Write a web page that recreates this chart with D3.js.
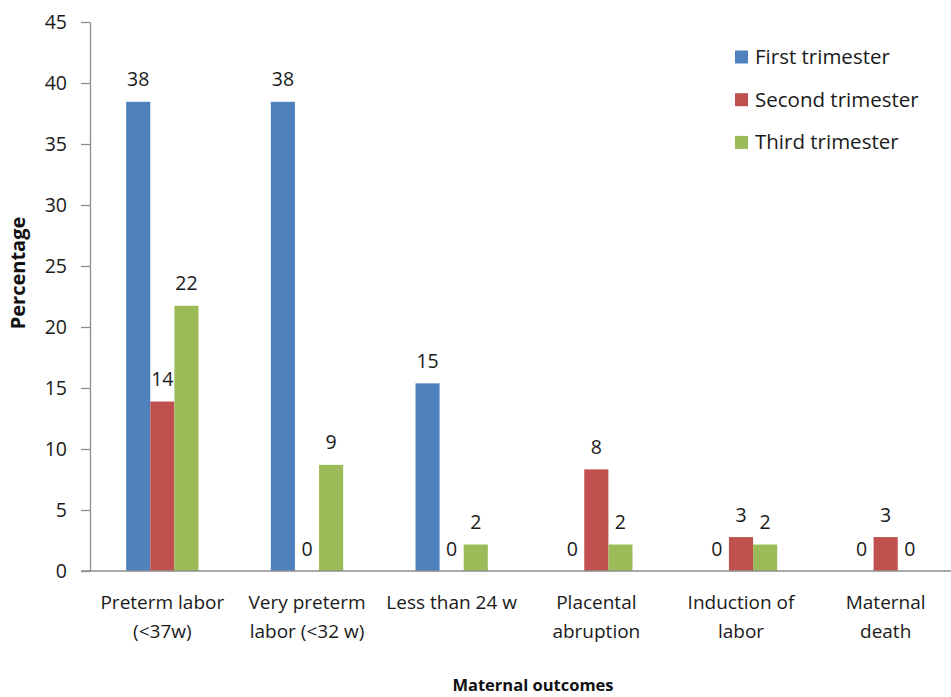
<!DOCTYPE html>
<html>
<head>
<meta charset="utf-8">
<script src="https://cdn.jsdelivr.net/npm/d3@7/dist/d3.min.js"></script>
<style>
  html, body { margin: 0; padding: 0; background: #fff; }
  svg { display: block; font-family: "Open Sans", "DejaVu Sans", sans-serif; }
</style>
</head>
<body>
<svg id="chart" width="951" height="697"></svg>
<script>
// Maternal outcomes by trimester of exposure (percent of each group)
const categories = [
  ["Preterm labor", "(<37w)"],
  ["Very preterm", "labor (<32 w)"],
  ["Less than 24 w"],
  ["Placental", "abruption"],
  ["Induction of", "labor"],
  ["Maternal", "death"]
];
const seriesNames = ["First trimester", "Second trimester", "Third trimester"];
const firstTrimester  = [38.46, 38.46, 15.38, 0, 0, 0];
const secondTrimester = [13.89, 0, 0, 8.33, 2.78, 2.78];
const thirdTrimester  = [21.74, 8.70, 2.17, 2.17, 2.17, 0];
const seriesColors = ["#4F81BD", "#C0504D", "#9BBB59"];
const yTicks = [0, 5, 10, 15, 20, 25, 30, 35, 40, 45];

const seriesValues = [firstTrimester, secondTrimester, thirdTrimester];

const svg = d3.select("#chart");
const plot = { left: 90, right: 958, top: 22, bottom: 571 };

const x = d3.scaleBand()
  .domain(d3.range(categories.length))
  .range([plot.left, plot.right])
  .paddingInner(0).paddingOuter(0);

const bw = x.bandwidth();
const xs = d3.scaleBand()
  .domain(d3.range(seriesNames.length))
  .range([bw * 0.25, bw * 0.75])
  .padding(0);

const y = d3.scaleLinear().domain([0, 45]).range([plot.bottom, plot.top]);

// Y axis
const yAxis = svg.append("g")
  .attr("transform", `translate(${plot.left},0)`)
  .call(d3.axisLeft(y).tickValues(yTicks).tickSize(9).tickPadding(14).tickSizeOuter(0));
yAxis.select(".domain").attr("stroke", "#8c8c8c").attr("stroke-width", 1.3);
yAxis.selectAll(".tick line").attr("stroke", "#8c8c8c").attr("stroke-width", 1.3);
yAxis.selectAll(".tick text")
  .attr("font-size", 19.5).attr("fill", "#1a1a1a")
  .attr("font-family", "'Open Sans', sans-serif");

// Bars per group
const groups = svg.append("g").selectAll("g")
  .data(categories)
  .join("g")
  .attr("transform", (d, i) => `translate(${x(i)},0)`);

groups.each(function (cat, ci) {
  const g = d3.select(this);
  seriesValues.forEach((vals, si) => {
    const v = vals[ci];
    g.append("rect")
      .attr("x", xs(si))
      .attr("width", xs.bandwidth())
      .attr("y", y(v))
      .attr("height", y(0) - y(v))
      .attr("fill", seriesColors[si]);
  });
});

// X baseline
svg.append("line")
  .attr("x1", plot.left - 9).attr("x2", plot.right)
  .attr("y1", y(0)).attr("y2", y(0))
  .attr("stroke", "#8c8c8c").attr("stroke-width", 1.3);

// Value labels
groups.each(function (cat, ci) {
  const g = d3.select(this);
  seriesValues.forEach((vals, si) => {
    const v = vals[ci];
    g.append("text")
      .attr("x", xs(si) + xs.bandwidth() / 2)
      .attr("y", y(v) - 15.5)
      .attr("text-anchor", "middle")
      .attr("font-size", 19.5)
      .attr("fill", "#1a1a1a")
      .text(d3.format(".0f")(v));
  });
});

// Category labels
groups.each(function (cat) {
  const g = d3.select(this);
  cat.forEach((line, li) => {
    g.append("text")
      .attr("x", bw / 2)
      .attr("y", 609 + li * 29)
      .attr("text-anchor", "middle")
      .attr("font-size", 19)
      .attr("fill", "#1a1a1a")
      .text(line);
  });
});

// Axis titles
svg.append("text")
  .attr("transform", "translate(25,273) rotate(-90)")
  .attr("text-anchor", "middle")
  .attr("font-size", 20)
  .attr("font-weight", "bold")
  .attr("fill", "#111")
  .text("Percentage");

svg.append("text")
  .attr("x", 533).attr("y", 691)
  .attr("text-anchor", "middle")
  .attr("font-size", 16.5)
  .attr("font-weight", "bold")
  .attr("fill", "#111")
  .text("Maternal outcomes");

// Legend
const legend = svg.append("g").attr("transform", "translate(735,57)");
const ly = d3.scalePoint().domain(seriesNames).range([0, 85.4]);
const li = legend.selectAll("g").data(seriesNames).join("g")
  .attr("transform", d => `translate(0,${ly(d)})`);
li.append("rect")
  .attr("x", 0).attr("y", -6.5).attr("width", 13).attr("height", 13)
  .attr("fill", (d, i) => seriesColors[i]);
li.append("text")
  .attr("x", 20).attr("y", 7)
  .attr("font-size", 20.5)
  .attr("fill", "#1a1a1a")
  .text(d => d);
</script>
</body>
</html>
